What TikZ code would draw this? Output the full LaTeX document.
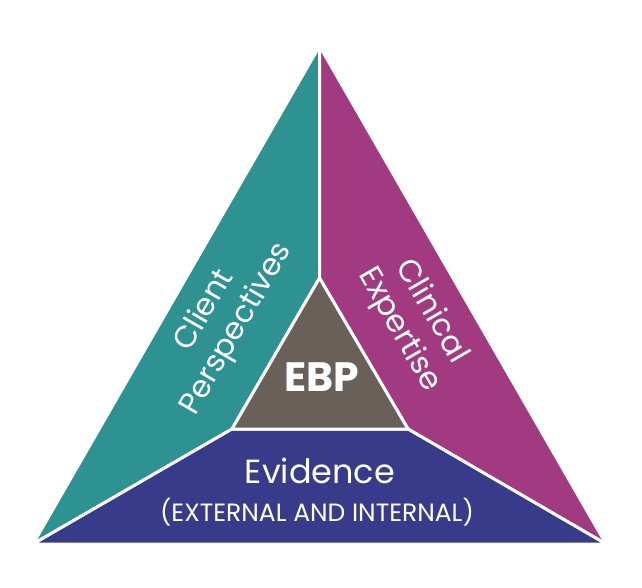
\documentclass[tikz,border=0pt]{standalone}
\usepackage{fontspec}
\setmainfont{Poppins}
\definecolor{cteal}{RGB}{46,146,146}
\definecolor{cmag}{RGB}{162,58,130}
\definecolor{cblue}{RGB}{56,58,138}
\definecolor{cgray}{RGB}{106,96,90}
\begin{document}
\begin{tikzpicture}[x=1pt,y=-1pt,
  region/.style={draw=white,line width=3pt,line join=round},
  lbl/.style={text=white,align=center,inner sep=0pt}]
\useasboundingbox[fill=white] (0,0) rectangle (642,588);
\coordinate (OA) at (319.5,46);
\coordinate (OL) at (33,544);
\coordinate (OR) at (606,544);
\coordinate (IA) at (319.5,278);
\coordinate (IL) at (232,429);
\coordinate (IR) at (408,429);
\filldraw[region,fill=cteal] (OA) -- (IA) -- (IL) -- (OL) -- cycle;
\filldraw[region,fill=cmag] (OA) -- (OR) -- (IR) -- (IA) -- cycle;
\filldraw[region,fill=cblue] (OL) -- (IL) -- (IR) -- (OR) -- cycle;
\filldraw[region,fill=cgray] (IA) -- (IL) -- (IR) -- cycle;
\node[lbl,rotate=60,font=\fontsize{30.5}{37}\selectfont] (client) at (221,320) {Client\\Perspectives};
\node[lbl,rotate=-60,font=\fontsize{31}{37}\selectfont] (clinical) at (415,321) {Clinical\\Expertise};
\node[lbl,font=\fontsize{41}{44}\selectfont\bfseries] (ebp) at (322,377) {EBP};
\node[lbl,font=\fontsize{33.5}{36}\selectfont] (evid) at (320,471) {Evidence};
\node[lbl,font=\fontsize{25}{28}\selectfont] (extint) at (317,512) {(EXTERNAL AND INTERNAL)};
\end{tikzpicture}
\end{document}
